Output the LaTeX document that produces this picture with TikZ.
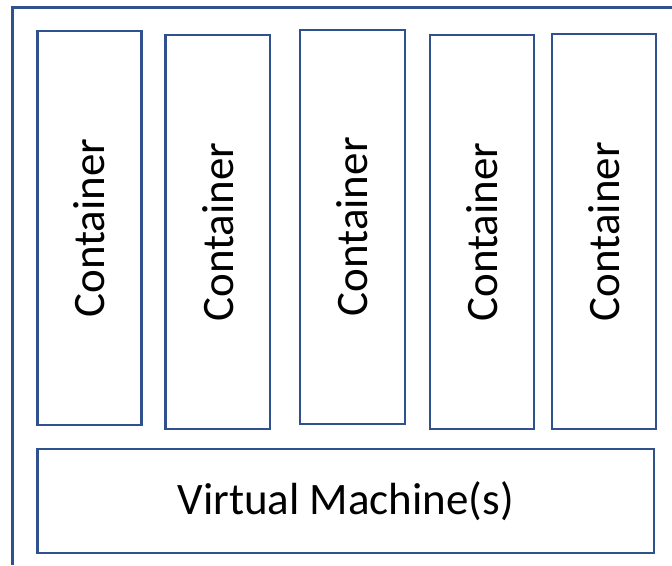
\documentclass[tikz,border=0pt]{standalone}
\usepackage{fontspec}
\setmainfont{Carlito}
\definecolor{frameblue}{HTML}{2F528F}
\begin{document}
\begin{tikzpicture}[x=1pt,y=-1pt,
  box/.style={draw=frameblue, line width=2.4pt, fill=white, inner sep=0pt, outer sep=0pt,
    font=\fontsize{45}{50}\selectfont},
  cont/.style={box, minimum width=104pt, minimum height=394pt}]
\useasboundingbox (0,0) rectangle (672,565);
\coordinate (tl) at (12.5,7.5);
\coordinate (tr) at (672,7.5);
\coordinate (bl) at (12.5,565);
\draw[frameblue, line width=2.4pt] (tr) -- (tl) -- (bl);
\node[cont] (c1) at (89.5,228) {\rotatebox{90}{Container}};
\node[cont, minimum width=104.5pt] (c2) at (217.75,232) {\rotatebox{90}{Container}};
\node[cont, minimum width=105pt] (c3) at (352.5,226.8) {\rotatebox{90}{Container}};
\node[cont] (c4) at (482,232) {\rotatebox{90}{Container}};
\node[cont, minimum height=395pt] (c5) at (604,231.5) {\rotatebox{90}{Container}};
\node[box, minimum width=616.5pt, minimum height=104pt] (vm) at (345.75,501) {Virtual Machine(s)};
\end{tikzpicture}
\end{document}
